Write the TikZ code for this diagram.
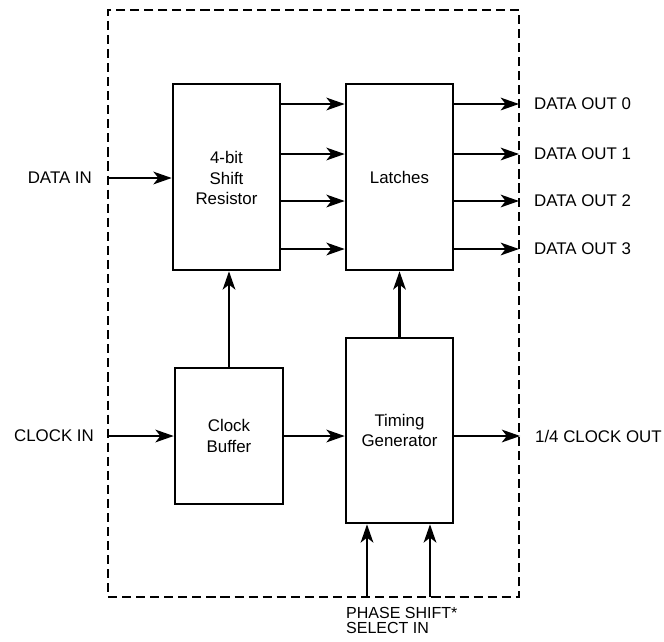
\documentclass[tikz,border=0pt]{standalone}
\usepackage{fontspec}
\setmainfont{Liberation Sans}
\usetikzlibrary{arrows.meta}

\begin{document}
\begin{tikzpicture}[x=0.025cm, y=-0.025cm, line width=1.6pt,
	>={Stealth[length=13pt, width=9pt, inset=3.5pt]},
	font=\fontsize{12}{14.4}\selectfont,
	block/.style={draw, line width=1.8pt, align=center, inner sep=0pt,
		minimum width=2.675cm},
	lbl/.style={inner sep=0pt}]
	\useasboundingbox (0,0) rectangle (664,641);
	% outer frame
	\node[draw, dashed, dash pattern=on 6.5pt off 3.5pt, minimum width=10.275cm,
		minimum height=14.675cm] (chip) at (313.5,303.5) {};
	% blocks
	\node[block, minimum height=4.65cm] (shift) at (226.5,177) {\\[-4pt]4-bit\\Shift\\Resistor};
	\node[block, minimum height=4.65cm] (latches) at (399.5,177) {Latches};
	\node[block, minimum width=2.7cm, minimum height=3.4cm] (buffer) at (229,436) {Clock\\Buffer};
	\node[block, minimum height=4.625cm] (timing) at (399.5,430.5) {Timing\\Generator};
	% inputs
	\node[lbl, anchor=east] (datain) at (93,178) {DATA IN};
	\draw[->] (chip.west |- datain) -- (shift.west |- datain);
	\node[lbl, anchor=east] (clockin) at (95,436) {CLOCK IN};
	\draw[->] (chip.west |- buffer.west) -- (buffer.west);
	% data outputs
	\foreach \y [count=\i from 0] in {104,154,201,249} {
		\coordinate (o\i) at (519,\y);
		\draw[->] (shift.east |- o\i) -- (latches.west |- o\i);
		\draw[->] (latches.east |- o\i) -- (o\i);
		\node[lbl, anchor=west] (out\i) at (533,\y) {DATA OUT \i};
	}
	% clock path
	\draw[->] (buffer.east) -- (timing.west |- buffer.east);
	\draw[->] (timing.east |- buffer.east) -- (chip.east |- buffer.east);
	\node[lbl, anchor=west] (clockout) at (534,436) {1/4 CLOCK OUT};
	\draw[->] (buffer.north) -- (buffer.north |- shift.south);
	\draw[->] (timing.north) -- (latches.south);
	% phase shift select
	\coordinate (ps1) at (367,597);
	\coordinate (ps2) at (430,597);
	\draw[->] (ps1) -- (ps1 |- timing.south);
	\draw[->] (ps2) -- (ps2 |- timing.south);
	\node[lbl, anchor=north west, align=left, font=\fontsize{11.4}{10.7}\selectfont]
		(phase) at (345,606) {PHASE SHIFT*\\SELECT IN};
\end{tikzpicture}
\end{document}
